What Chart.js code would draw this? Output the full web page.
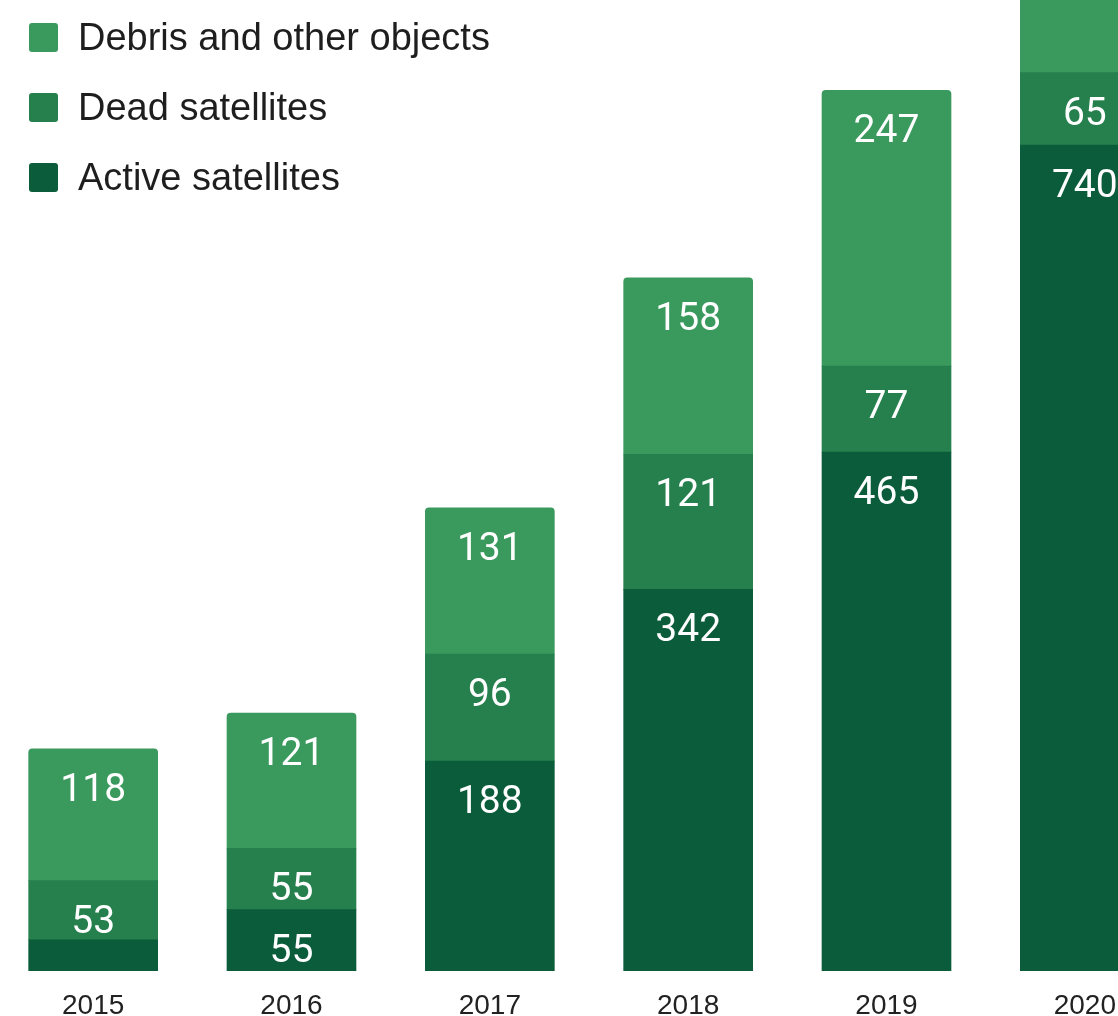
<!DOCTYPE html>
<html>
<head>
<meta charset="utf-8">
<script src="https://cdn.jsdelivr.net/npm/chart.js@4.4.1/dist/chart.umd.min.js"></script>
<style>
  html, body { margin: 0; padding: 0; background: #fff; overflow: hidden; width: 1118px; height: 1016px; }
  #wrap { position: absolute; left: -6px; top: 0; width: 1190px; height: 1016px; }
  #legend { position: absolute; left: 29px; top: 2px; font-family: "Liberation Sans", Arial, sans-serif; font-size: 38px; color: #1e1e1e; }
  .item { position: relative; height: 70px; display: flex; align-items: center; }
  .swatch { width: 29px; height: 29px; border-radius: 3px; margin-right: 20px; }
</style>
</head>
<body>
<div id="wrap"><canvas id="chart"></canvas></div>
<div id="legend"></div>
<script>
const years = ['2015', '2016', '2017', '2018', '2019', '2020'];
const active = [28, 55, 188, 342, 465, 740];
const dead = [53, 55, 96, 121, 77, 65];
const debris = [118, 121, 131, 158, 247, 290];

const colors = {
  debris: '#3a995d',
  dead: '#26804d',
  active: '#0b5c3b'
};

// legend, top to bottom
const legendItems = [
  ['Debris and other objects', colors.debris],
  ['Dead satellites', colors.dead],
  ['Active satellites', colors.active]
];
document.getElementById('legend').innerHTML = legendItems.map(([label, c]) =>
  `<div class="item"><span class="swatch" style="background:${c}"></span>${label}</div>`
).join('');

// white value text near the top of each segment
const valueLabels = {
  id: 'valueLabels',
  afterDatasetsDraw(chart) {
    const ctx = chart.ctx;
    ctx.save();
    ctx.font = '39px Roboto';
    ctx.fillStyle = '#ffffff';
    ctx.textAlign = 'center';
    ctx.textBaseline = 'alphabetic';
    chart.data.datasets.forEach((ds, i) => {
      chart.getDatasetMeta(i).data.forEach((bar, j) => {
        if (bar.base - bar.y < 45) return;
        ctx.fillText(ds.data[j], bar.x, bar.y + 52);
      });
    });
    ctx.restore();
  }
};

new Chart(document.getElementById('chart'), {
  type: 'bar',
  data: {
    labels: years,
    datasets: [
      { label: 'Active satellites', data: active, backgroundColor: colors.active, borderRadius: 0 },
      { label: 'Dead satellites', data: dead, backgroundColor: colors.dead, borderRadius: 0 },
      { label: 'Debris and other objects', data: debris, backgroundColor: colors.debris,
        borderRadius: { topLeft: 4, topRight: 4 } }
    ]
  },
  options: {
    responsive: true,
    maintainAspectRatio: false,
    animation: false,
    layout: { padding: 0 },
    barThickness: 129,
    plugins: { legend: { display: false }, tooltip: { enabled: false } },
    scales: {
      x: {
        stacked: true,
        grid: { display: false, drawTicks: false },
        border: { display: false },
        ticks: {
          color: '#222',
          padding: 18,
          font: { family: '"Liberation Sans", Arial, sans-serif', size: 28 }
        },
        afterFit: s => { s.height = 45; }
      },
      y: {
        stacked: true,
        display: false,
        min: 0,
        max: 870
      }
    }
  },
  plugins: [valueLabels]
});
</script>
</body>
</html>
